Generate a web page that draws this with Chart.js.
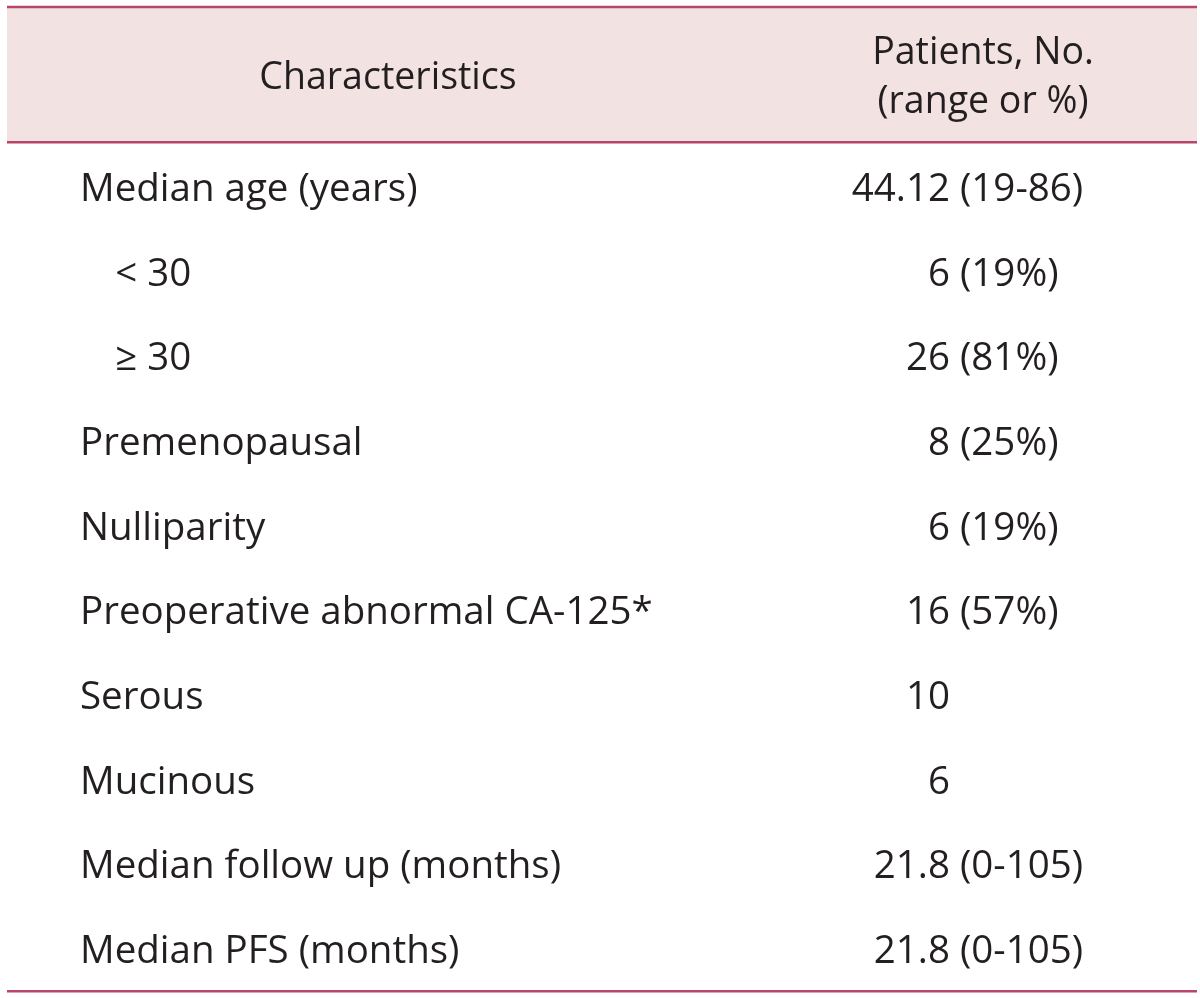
<!DOCTYPE html>
<html>
<head>
<meta charset="utf-8">
<script src="https://cdn.jsdelivr.net/npm/chart.js@4"></script>
<style>
  html, body { margin: 0; padding: 0; background: #ffffff; }
  #wrap { width: 1200px; height: 998px; position: relative; }
</style>
</head>
<body>
<div id="wrap"><canvas id="c"></canvas></div>
<script>
// ---- table content ----
const headerLeft = 'Characteristics';
const headerRight = ['Patients, No.', '(range or %)'];
const categories = [
  'Median age (years)',
  '< 30',
  '\u2265 30',
  'Premenopausal',
  'Nulliparity',
  'Preoperative abnormal CA-125*',
  'Serous',
  'Mucinous',
  'Median follow up (months)',
  'Median PFS (months)'
];
const indentLevels = [0, 1, 1, 0, 0, 0, 0, 0, 0, 0];
const valueNumbers = ['44.12', '6', '26', '8', '6', '16', '10', '6', '21.8', '21.8'];
const valueDetails = ['(19-86)', '(19%)', '(81%)', '(25%)', '(19%)', '(57%)', '', '', '(0-105)', '(0-105)'];

// ---- styles ----
const FONT_FAMILY = "'Open Sans', 'Noto Sans', sans-serif";
const FONT_SIZE = 38.5;
const HEADER_FONT_SIZE = 37.5;
const TEXT_COLOR = '#231f20';
const RULE_COLOR = '#b8456a';
const HEADER_BG = '#f3e2e2';

const tableDecor = {
  id: 'tableDecor',
  beforeDraw(chart) {
    const ctx = chart.ctx;
    const area = chart.chartArea;
    ctx.save();
    ctx.fillStyle = '#ffffff';
    ctx.fillRect(0, 0, chart.width, chart.height);
    const x0 = 7, x1 = chart.width - 3;
    const headTop = 7, headBottom = area.top - 5.5;
    const bottomRule = area.bottom - 3;
    ctx.fillStyle = HEADER_BG;
    ctx.fillRect(x0, headTop, x1 - x0, headBottom - headTop);
    ctx.strokeStyle = RULE_COLOR;
    ctx.lineWidth = 2.5;
    [headTop, headBottom, bottomRule].forEach(y => {
      ctx.beginPath();
      ctx.moveTo(x0, y);
      ctx.lineTo(x1, y);
      ctx.stroke();
    });
    ctx.fillStyle = TEXT_COLOR;
    ctx.font = HEADER_FONT_SIZE + 'px ' + FONT_FAMILY;
    ctx.textAlign = 'center';
    ctx.textBaseline = 'alphabetic';
    ctx.fillText(headerLeft, 388, 89);
    ctx.fillText(headerRight[0], 983, 64);
    ctx.fillText(headerRight[1], 983, 113);
    ctx.restore();
  }
};

const tickFont = { family: FONT_FAMILY, size: FONT_SIZE };
const hiddenGrid = { display: false, drawTicks: false };
function fixWidth(w) {
  return function (scale) {
    scale.width = w;
    scale.paddingTop = 0;
    scale.paddingBottom = 0;
  };
}

new Chart(document.getElementById('c'), {
  type: 'bar',
  data: { labels: categories, datasets: [] },
  options: {
    responsive: true,
    maintainAspectRatio: false,
    animation: false,
    events: [],
    layout: { padding: { left: 80, right: 0, top: 147.7, bottom: 3.7 } },
    plugins: { legend: { display: false }, tooltip: { enabled: false }, title: { display: false } },
    scales: {
      x: { type: 'linear', display: false, min: 0, max: 1 },
      y: {
        type: 'category',
        position: 'left',
        offset: true,
        grid: hiddenGrid,
        border: { display: false },
        afterFit: fixWidth(650),
        ticks: {
          autoSkip: false,
          crossAlign: 'far',
          padding: 0,
          color: TEXT_COLOR,
          font: tickFont,
          callback: (v, i) => (indentLevels[i] ? '\u2002\u2005\u2006' : '') + categories[i]
        }
      },
      yNum: {
        type: 'category',
        axis: 'y',
        position: 'right',
        weight: 1,
        offset: true,
        labels: valueNumbers,
        grid: hiddenGrid,
        border: { display: false },
        afterFit: fixWidth(150),
        ticks: { autoSkip: false, crossAlign: 'far', padding: 0, color: TEXT_COLOR, font: tickFont }
      },
      yDet: {
        type: 'category',
        axis: 'y',
        position: 'right',
        weight: 2,
        offset: true,
        labels: valueDetails,
        grid: hiddenGrid,
        border: { display: false },
        afterFit: fixWidth(250),
        ticks: { autoSkip: false, crossAlign: 'near', padding: 10, color: TEXT_COLOR, font: tickFont }
      }
    }
  },
  plugins: [tableDecor]
});
</script>
</body>
</html>
